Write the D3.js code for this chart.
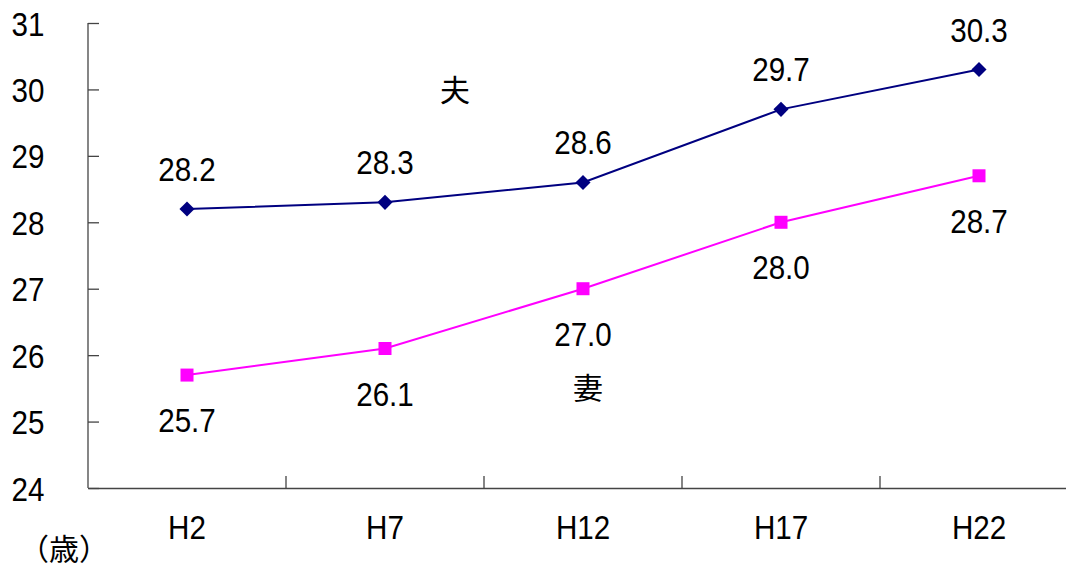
<!DOCTYPE html>
<html>
<head>
<meta charset="utf-8">
<script src="https://cdn.jsdelivr.net/npm/d3@7"></script>
<style>
  body { margin: 0; background: #fff; }
  text { font-family: "Liberation Sans", Arial, sans-serif; }
</style>
</head>
<body>
<div class="chart"></div>
<script>
const categories = ['H2', 'H7', 'H12', 'H17', 'H22'];
const husband = [28.2, 28.3, 28.6, 29.7, 30.3];
const wife = [25.7, 26.1, 27.0, 28.0, 28.7];
const yTicks = [24, 25, 26, 27, 28, 29, 30, 31];

const width = 1066, height = 568;
const margin = {top: 23, left: 88, bottom: 80};
const fs = 34, squeeze = 0.87;   // numbers look narrow in the original

const svg = d3.select('.chart')
  .append('svg')
    .attr('width', width)
    .attr('height', height);

// scales
const x = d3.scaleBand()
  .domain(categories)
  .range([margin.left, margin.left + 198 * categories.length]);

const y = d3.scaleLinear()
  .domain([24, 31])
  .range([height - margin.bottom, margin.top]);

const cx = d => x(d) + x.bandwidth() / 2;

// helper for narrow latin text
const narrow = (sel, px, py) => sel
  .attr('x', 0).attr('y', 0).attr('dy', null)
  .attr('transform', (d, i) => `translate(${px(d, i)}, ${py(d, i)}) scale(${squeeze}, 1)`)
  .attr('text-anchor', 'middle')
  .attr('font-size', fs)
  .attr('fill', '#000')
  .attr('font-family', '"Liberation Sans", Arial, sans-serif');

// axes
const xAxis = svg.append('g')
  .attr('transform', `translate(0, ${y(24)})`)
  .call(d3.axisBottom(x).tickSize(0));
xAxis.select('.domain').attr('stroke', '#444').attr('stroke-width', 1.3);
xAxis.selectAll('.tick').attr('transform', null);
narrow(xAxis.selectAll('text'), d => cx(d), () => 51);

// band separators on the x axis
svg.append('g').selectAll('line')
  .data(categories.slice(1))
  .join('line')
    .attr('x1', d => x(d)).attr('x2', d => x(d))
    .attr('y1', y(24)).attr('y2', y(24) - 12)
    .attr('stroke', '#444').attr('stroke-width', 1.3);

const yAxis = svg.append('g')
  .attr('transform', `translate(${margin.left}, 0)`)
  .call(d3.axisRight(y).tickValues(yTicks).tickSize(11).tickFormat(d => d));
yAxis.select('.domain').attr('stroke', '#444').attr('stroke-width', 1.3)
  .attr('d', `M0,${y(31)}V${y(24)}`);
yAxis.selectAll('line').attr('stroke', '#444').attr('stroke-width', 1.3);
narrow(yAxis.selectAll('text'), () => -60, () => 12);

const line = d3.line()
  .x((d, i) => cx(categories[i]))
  .y(d => y(d));

// husband series
svg.append('path')
  .datum(husband)
  .attr('d', line)
  .attr('fill', 'none')
  .attr('stroke', '#000080')
  .attr('stroke-width', 2);

svg.append('g').selectAll('path')
  .data(husband)
  .join('path')
    .attr('d', d3.symbol(d3.symbolDiamond2, 145))
    .attr('transform', (d, i) => `translate(${cx(categories[i])}, ${y(d)})`)
    .attr('fill', '#000080');

narrow(svg.append('g').selectAll('text')
  .data(husband)
  .join('text')
    .text(d => d.toFixed(1)),
  (d, i) => cx(categories[i]), d => y(d) - 28);

// wife series
svg.append('path')
  .datum(wife)
  .attr('d', line)
  .attr('fill', 'none')
  .attr('stroke', '#ff00ff')
  .attr('stroke-width', 2);

svg.append('g').selectAll('rect')
  .data(wife)
  .join('rect')
    .attr('x', (d, i) => cx(categories[i]) - 6.5)
    .attr('y', d => y(d) - 6.5)
    .attr('width', 13)
    .attr('height', 13)
    .attr('fill', '#ff00ff');

narrow(svg.append('g').selectAll('text')
  .data(wife)
  .join('text')
    .text(d => d.toFixed(1)),
  (d, i) => cx(categories[i]), d => y(d) + 57);

// series names
svg.append('text')
  .attr('x', 455).attr('y', 101)
  .attr('text-anchor', 'middle')
  .attr('font-size', 30)
  .style('font-family', '"Noto Sans CJK JP", sans-serif')
  .text('夫');

svg.append('text')
  .attr('x', 588).attr('y', 399)
  .attr('text-anchor', 'middle')
  .attr('font-size', 30)
  .style('font-family', '"Noto Sans CJK JP", sans-serif')
  .text('妻');

// unit
svg.append('text')
  .attr('x', 64).attr('y', 560)
  .attr('text-anchor', 'middle')
  .attr('font-size', 30)
  .style('font-family', '"Noto Sans CJK JP", sans-serif')
  .text('（歳）');
</script>
</body>
</html>
